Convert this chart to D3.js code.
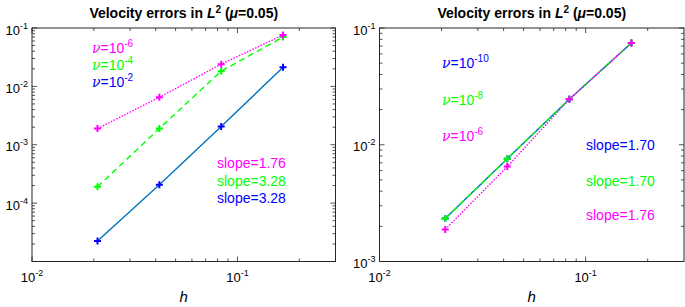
<!DOCTYPE html>
<html><head><meta charset="utf-8">
<script src="https://cdn.jsdelivr.net/npm/d3@7"></script>
<style>body{margin:0;background:#fff}svg{display:block;font-family:"Liberation Sans",Arial,sans-serif}</style>
</head><body><svg id="c" width="685" height="307"></svg>
<script>
const hValues = [1/48, 1/24, 1/12, 1/6];
// Left panel
const leftNu6 = [0.00189, 0.0065, 0.0240, 0.0758];
const leftNu4 = [0.00019, 0.0019, 0.0182, 0.0700];
const leftNu2 = [0.0000225, 0.000207, 0.00205, 0.0213];
// Right panel
const rightNu10 = [0.00233, 0.0076, 0.0245, 0.0745];
const rightNu8 = [0.00233, 0.0076, 0.0245, 0.0745];
const rightNu6 = [0.00188, 0.0065, 0.0245, 0.0745];
const leftLegend = [["-6","#ff00ff"],["-4","#00ff00"],["-2","#0000ff"]];
const leftSlopes = [["1.76","#ff00ff"],["3.28","#00ff00"],["3.28","#0000ff"]];
const rightLegend = [["-10","#0000ff"],["-8","#00ff00"],["-6","#ff00ff"]];
const rightSlopes = [["1.70","#0000ff"],["1.70","#00ff00"],["1.76","#ff00ff"]];
const xTickExps = [-2, -1];
const leftYExps = [-4,-3,-2,-1];
const rightYExps = [-3,-2,-1];

const svg = d3.select("#c");
const axisColor = "#262626";

function panel(cfg){
  const g = svg.append("g");
  const x = d3.scaleLog().domain([0.01, 0.3]).range([cfg.x0, cfg.x1]);
  const y = d3.scaleLog().domain(cfg.ydom).range([cfg.y1, cfg.y0]);
  const minorX = [];
  for (let e=-2;e<=-1;e++) for (let m=1;m<=9;m++){const v=m*Math.pow(10,e); if(v>=0.01&&v<=0.3) minorX.push([v,m===1]);}
  const minorY = [];
  for (let e=Math.round(Math.log10(cfg.ydom[0]));e<Math.round(Math.log10(cfg.ydom[1]));e++) for (let m=1;m<=9;m++) minorY.push([m*Math.pow(10,e),m===1]);
  minorY.push([cfg.ydom[1],true]);
  minorX.forEach(([v,maj])=>{
    const L = maj?5:3, xx=x(v);
    g.append("line").attr("x1",xx).attr("x2",xx).attr("y1",cfg.y1).attr("y2",cfg.y1-L).attr("stroke",axisColor).attr("stroke-width",0.8);
    g.append("line").attr("x1",xx).attr("x2",xx).attr("y1",cfg.y0).attr("y2",cfg.y0+L).attr("stroke",axisColor).attr("stroke-width",0.8);
  });
  minorY.forEach(([v,maj])=>{
    const L = maj?5:3, yy=y(v);
    g.append("line").attr("x1",cfg.x0).attr("x2",cfg.x0+L).attr("y1",yy).attr("y2",yy).attr("stroke",axisColor).attr("stroke-width",0.8);
    g.append("line").attr("x1",cfg.x1).attr("x2",cfg.x1-L).attr("y1",yy).attr("y2",yy).attr("stroke",axisColor).attr("stroke-width",0.8);
  });
  g.append("rect").attr("x",cfg.x0).attr("y",cfg.y0).attr("width",cfg.x1-cfg.x0).attr("height",cfg.y1-cfg.y0)
    .attr("fill","none").attr("stroke",axisColor).attr("stroke-width",1);
  xTickExps.forEach(e=>{
    const t = g.append("text").attr("x",x(Math.pow(10,e))).attr("y",cfg.y1+20.5).attr("text-anchor","middle").attr("font-size",13).attr("fill","#000");
    t.append("tspan").text("10");
    t.append("tspan").attr("dy",-6).attr("font-size",9).text("-"+Math.abs(e));
  });
  cfg.yexps.forEach(e=>{
    const t = g.append("text").attr("x",cfg.x0-4).attr("y",y(Math.pow(10,e))+6.5).attr("text-anchor","end").attr("font-size",13).attr("fill","#000");
    t.append("tspan").text("10");
    t.append("tspan").attr("dy",-6).attr("font-size",9).text("-"+Math.abs(e));
  });
  const cx = (cfg.x0+cfg.x1)/2;
  const tt = g.append("text").attr("x",cx).attr("y",17.5).attr("text-anchor","middle").attr("font-size",14).attr("font-weight","bold");
  tt.append("tspan").text("Velocity errors in ");
  tt.append("tspan").attr("font-style","italic").text("L");
  tt.append("tspan").attr("dy",-5).attr("font-size",10).text("2");
  tt.append("tspan").attr("dy",5).text(" (");
  tt.append("tspan").attr("font-style","italic").text("μ");
  tt.append("tspan").text("=0.05)");
  g.append("text").attr("x",cx).attr("y",302).attr("text-anchor","middle").attr("font-size",15).attr("font-style","italic").text("h");
  const line = d3.line().x((d,i)=>x(hValues[i])).y(d=>y(d));
  cfg.series.forEach(s=>{
    g.append("path").datum(s.data).attr("d",line).attr("fill","none").attr("stroke",s.lc).attr("stroke-width",1.4)
      .attr("stroke-dasharray",s.dash||null);
    s.data.forEach((d,i)=>{
      const px=x(hValues[i]), py=y(d), r=3.5;
      g.append("path").attr("d",`M${px-r},${py}H${px+r}M${px},${py-r}V${py+r}`).attr("stroke",s.mc).attr("stroke-width",2).attr("fill","none");
    });
  });
  cfg.legend.forEach((l,i)=>{
    const t = g.append("text").attr("x",cfg.lx).attr("y",cfg.ly[i]).attr("font-size",14).attr("fill",l[1]);
    t.append("tspan").attr("font-style","italic").attr("font-family","DejaVu Serif").attr("font-size",14).text("ν");
    t.append("tspan").text("=10");
    t.append("tspan").attr("dy",-6).attr("font-size",10).text(l[0]);
  });
  cfg.slopes.forEach((l,i)=>{
    g.append("text").attr("x",cfg.sx).attr("y",cfg.sy[i]).attr("font-size",14).attr("fill",l[1]).text("slope="+l[0]);
  });
}

panel({x0:32,x1:335.5,y0:28,y1:261.5,ydom:[1e-5,1e-1],yexps:leftYExps,
  series:[
    {data:leftNu2,lc:"#0072bd",mc:"#0000ff"},
    {data:leftNu4,lc:"#00ff00",mc:"#00ff00",dash:"6,4"},
    {data:leftNu6,lc:"#ff00ff",mc:"#ff00ff",dash:"1.5,1.5"}
  ],
  legend:leftLegend,lx:92,ly:[53,70,87],
  slopes:leftSlopes,sx:217,sy:[168,186,203]});

panel({x0:379.5,x1:684,y0:28,y1:261.5,ydom:[1e-3,1e-1],yexps:rightYExps,
  series:[
    {data:rightNu10,lc:"#0072bd",mc:"#0000ff"},
    {data:rightNu8,lc:"#00ff00",mc:"#00ff00",dash:"6,4"},
    {data:rightNu6,lc:"#ff00ff",mc:"#ff00ff",dash:"1.5,1.5"}
  ],
  legend:rightLegend,lx:442,ly:[68,105,141],
  slopes:rightSlopes,sx:586,sy:[150,186,220]});
</script></body></html>
